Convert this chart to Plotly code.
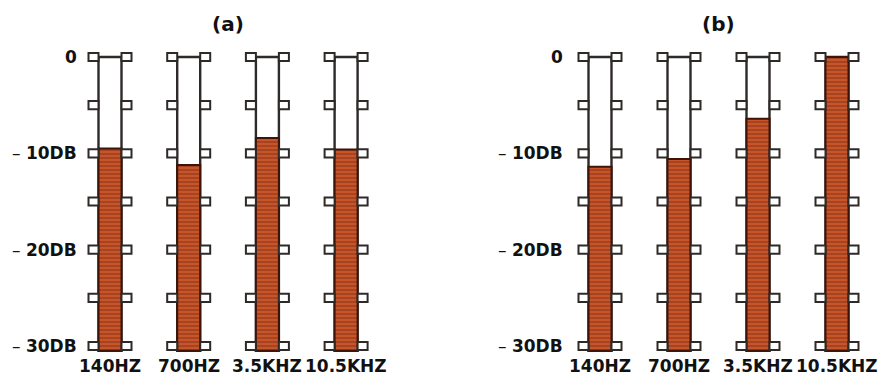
import plotly.graph_objects as go

# ---- data ----
bands = ["140HZ", "700HZ", "3.5KHZ", "10.5KHZ"]
level_a = [-9.5, -11.2, -8.4, -9.6]     # dB, panel (a)
level_b = [-11.4, -10.6, -6.4, 0.0]     # dB, panel (b)
panel_titles = ["(a)", "(b)"]
tick_db = [0, -5, -10, -15, -20, -25, -30]
label_db = [0, -10, -20, -30]
label_num = ["0", "10DB", "20DB", "30DB"]
label_dash = ["", "– ", "– ", "– "]
db_top, db_bottom = 0, -30

OFF = 8                      # page body margin
W, H = 888 - OFF, 376 - OFF
# page-pixel geometry
y_px_top, y_px_bot = 57 - OFF, 346 - OFF
dbpp = (db_top - db_bottom) / (y_px_bot - y_px_top)
yrange = [db_bottom - (H - y_px_bot) * dbpp, db_top + y_px_top * dbpp]

panels = [
    dict(levels=level_a, xa="x", c0=110 - OFF, step=78.7, gap=10),
    dict(levels=level_b, xa="x2", c0=600 - OFF, step=79.0, gap=14),
]
split_px = 444 - OFF

tube_w_px, tab_w_px, tab_h_db = 23, 10, 0.42
outline = "#2e2a28"
fill_bg = "#c8542a"
fill_fg = "#561808"
font = "DejaVu Sans"

fig = go.Figure()
shapes, annotations = [], []
layout_axes = {}

for i, p in enumerate(panels):
    xs = list(range(len(bands)))
    bw = tube_w_px / p["step"]
    tw = tab_w_px / p["step"]
    xref = p["xa"]
    yref = "y" if i == 0 else "y2"
    # empty tube
    fig.add_trace(go.Bar(
        x=xs, y=[db_top - db_bottom + 0.5] * len(xs), base=db_bottom - 0.5, width=bw,
        marker=dict(color="white", line=dict(color=outline, width=2.4)),
        xaxis=xref, yaxis=yref, showlegend=False, hoverinfo="skip"))
    # filled level
    fig.add_trace(go.Bar(
        x=xs, y=[lv - db_bottom + 0.5 for lv in p["levels"]], base=db_bottom - 0.5, width=bw,
        marker=dict(color=fill_bg, line=dict(color="#3e1408", width=2),
                    pattern=dict(shape="-", fgcolor=fill_fg, bgcolor=fill_bg, size=4, solidity=0.3)),
        xaxis=xref, yaxis=yref, showlegend=False, name=panel_titles[i]))
    for x in xs:
        for t in tick_db:
            for side in (-1, 1):
                inner = x + side * bw / 2
                outer = inner + side * tw
                shapes.append(dict(type="rect", xref=xref, yref=yref,
                                   x0=min(inner, outer), x1=max(inner, outer),
                                   y0=t - tab_h_db, y1=t + tab_h_db,
                                   fillcolor="white", line=dict(color=outline, width=2),
                                   layer="above"))
        annotations.append(dict(x=x, y=db_bottom, xref=xref, yref=yref, text="<b>%s</b>" % bands[x],
                                showarrow=False, yshift=-20, xanchor="center", yanchor="middle",
                                font=dict(family=font, size=17, color="#111")))
    for lv, dash, num in zip(label_db, label_dash, label_num):
        annotations.append(dict(x=-bw / 2 - tw, y=lv, xref=xref, yref=yref,
                                text="%s<b>%s</b>" % (dash, num),
                                showarrow=False, xanchor="right", yanchor="middle", xshift=-p["gap"],
                                font=dict(family=font, size=17, color="#111")))
    annotations.append(dict(x=1.5, y=db_top, xref=xref, yref=yref, text="<b>%s</b>" % panel_titles[i],
                            showarrow=False, yshift=33, xanchor="center", yanchor="middle",
                            font=dict(family=font, size=20, color="#111")))
    px0 = 0 if i == 0 else split_px
    px1 = split_px if i == 0 else W
    xr = [(px0 - p["c0"]) / p["step"], (px1 - p["c0"]) / p["step"]]
    sfx = "" if i == 0 else "2"
    layout_axes["xaxis" + sfx] = dict(domain=[px0 / W, px1 / W], range=xr, visible=False, fixedrange=True)
    layout_axes["yaxis" + sfx] = dict(domain=[0, 1], range=yrange, visible=False, fixedrange=True,
                                      anchor="x" + sfx)

fig.update_layout(
    width=W, height=H, margin=dict(l=0, r=0, t=0, b=0),
    paper_bgcolor="white", plot_bgcolor="white",
    barmode="overlay", shapes=shapes, annotations=annotations, **layout_axes)

fig.write_html("out.html")
